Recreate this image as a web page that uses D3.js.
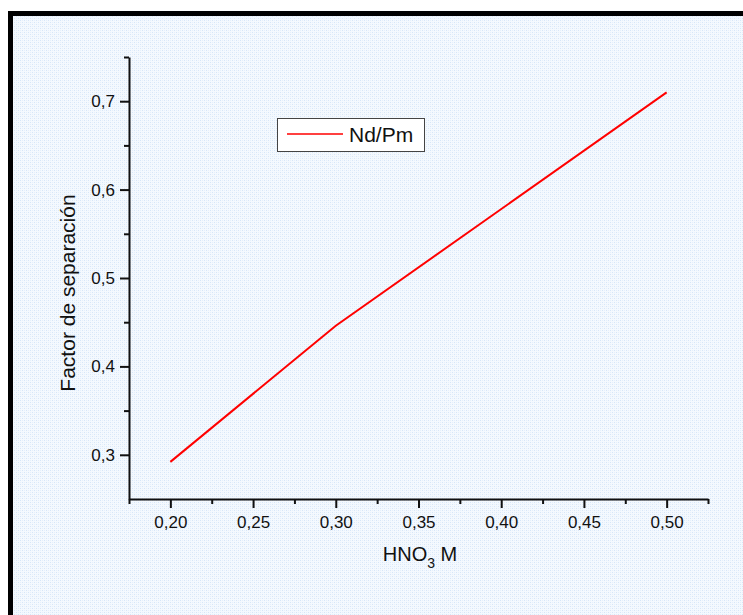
<!DOCTYPE html>
<html>
<head>
<meta charset="utf-8">
<script src="https://cdn.jsdelivr.net/npm/d3@7"></script>
<style>
  body { margin: 0; background: #fff; }
  svg { display: block; font-family: "Liberation Sans", Arial, sans-serif; }
</style>
</head>
<body>
<svg id="chart" width="743" height="615"></svg>
<script>
'use strict';

// data
const hno3 = [0.20, 0.30, 0.50];
const factor = [0.292, 0.446, 0.710];
const seriesName = 'Nd/Pm';

const xMajor = [0.20, 0.25, 0.30, 0.35, 0.40, 0.45, 0.50];
const xMinor = [0.175, 0.225, 0.275, 0.325, 0.375, 0.425, 0.475, 0.525];
const yMajor = [0.3, 0.4, 0.5, 0.6, 0.7];
const yMinor = [0.35, 0.45, 0.55, 0.65, 0.75];

const svg = d3.select('#chart');

// dotted light blue texture
const defs = svg.append('defs');
const pat = defs.append('pattern')
    .attr('id', 'tex')
    .attr('width', 4).attr('height', 4)
    .attr('patternUnits', 'userSpaceOnUse');
pat.append('rect').attr('width', 4).attr('height', 4).attr('fill', '#f4f9fe');
pat.append('rect').attr('x', 0).attr('y', 0).attr('width', 1).attr('height', 1).attr('fill', '#d6e6f8');
pat.append('rect').attr('x', 2).attr('y', 2).attr('width', 1).attr('height', 1).attr('fill', '#d6e6f8');
pat.append('rect').attr('x', 2).attr('y', 0).attr('width', 1).attr('height', 1).attr('fill', '#e6effb');
pat.append('rect').attr('x', 0).attr('y', 2).attr('width', 1).attr('height', 1).attr('fill', '#e6effb');

svg.append('rect')
    .attr('x', 13).attr('y', 16)
    .attr('width', 743).attr('height', 615)
    .attr('fill', 'url(#tex)');

// thick black frame (left + top only visible)
svg.append('rect').attr('x', 8).attr('y', 11).attr('width', 743).attr('height', 5).attr('fill', '#000');
svg.append('rect').attr('x', 8).attr('y', 11).attr('width', 5).attr('height', 615).attr('fill', '#000');

const x = d3.scaleLinear().domain([0.175, 0.525]).range([129, 708]);
const y = d3.scaleLinear().domain([0.25, 0.75]).range([499, 57]);

const loc = d3.formatLocale({decimal: ',', thousands: '.', grouping: [3], currency: ['', '']});
const fx = loc.format('.2f');
const fy = loc.format('.1f');

// minor ticks first
svg.append('g')
    .attr('transform', `translate(0,${y(0.25)})`)
    .call(d3.axisBottom(x).tickValues(xMinor).tickSize(5).tickFormat(''))
    .call(g => g.select('.domain').remove())
    .call(g => g.selectAll('line').attr('stroke', '#111').attr('stroke-width', 2));

svg.append('g')
    .attr('transform', `translate(${x(0.175)},0)`)
    .call(d3.axisLeft(y).tickValues(yMinor).tickSize(5).tickFormat(''))
    .call(g => g.select('.domain').remove())
    .call(g => g.selectAll('line').attr('stroke', '#111').attr('stroke-width', 2));

const xAxis = svg.append('g')
    .attr('transform', `translate(0,${y(0.25)})`)
    .call(d3.axisBottom(x).tickValues(xMajor).tickSize(9).tickSizeOuter(0).tickPadding(8).tickFormat(fx));

const yAxis = svg.append('g')
    .attr('transform', `translate(${x(0.175)},0)`)
    .call(d3.axisLeft(y).tickValues(yMajor).tickSize(9).tickSizeOuter(0).tickPadding(5).tickFormat(fy));

[xAxis, yAxis].forEach(g => {
    g.select('.domain').attr('stroke', '#111').attr('stroke-width', 2);
    g.selectAll('line').attr('stroke', '#111').attr('stroke-width', 2);
    g.selectAll('text').attr('fill', '#111').attr('font-size', 17)
        .attr('font-family', '"Liberation Sans", Arial, sans-serif');
});

// series
const line = d3.line().x(d => x(d[0])).y(d => y(d[1]));
svg.append('path')
    .datum(d3.zip(hno3, factor))
    .attr('d', line)
    .attr('fill', 'none')
    .attr('stroke', '#f00')
    .attr('stroke-width', 2);

// axis titles
const xt = svg.append('text')
    .attr('x', 420).attr('y', 561)
    .attr('text-anchor', 'middle')
    .attr('font-size', 20)
    .attr('fill', '#111');
xt.append('tspan').text('HNO');
xt.append('tspan').attr('font-size', 14).attr('dy', 7).text('3');
xt.append('tspan').attr('dy', -7).text(' M');

svg.append('text')
    .attr('transform', 'translate(75,293) rotate(-90)')
    .attr('text-anchor', 'middle')
    .attr('font-size', 21)
    .attr('fill', '#111')
    .text('Factor de separación');

// legend
const leg = svg.append('g');
leg.append('rect')
    .attr('x', 277.5).attr('y', 118.5)
    .attr('width', 147).attr('height', 33)
    .attr('fill', '#fff')
    .attr('stroke', '#444')
    .attr('stroke-width', 1);
leg.append('line')
    .attr('x1', 287).attr('x2', 343)
    .attr('y1', 134).attr('y2', 134)
    .attr('stroke', '#f00').attr('stroke-width', 1.5);
leg.append('text')
    .attr('x', 349).attr('y', 142)
    .attr('font-size', 21)
    .attr('fill', '#111')
    .text(seriesName);
</script>
</body>
</html>
